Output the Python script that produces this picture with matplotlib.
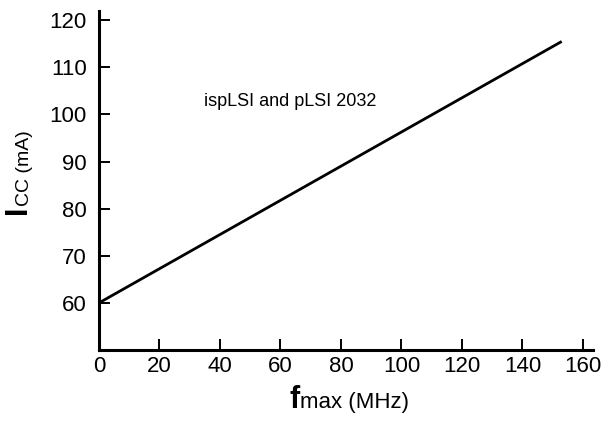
import matplotlib
matplotlib.use('Agg')
import matplotlib.pyplot as plt

# dados
fmax = [0, 153]
icc = [60, 115.5]
xticks = [0, 20, 40, 60, 80, 100, 120, 140, 160]
yticks = [60, 70, 80, 90, 100, 110, 120]
curva = 'ispLSI and pLSI 2032'

plt.rcParams['font.family'] = ['Liberation Sans', 'DejaVu Sans']

fig = plt.figure(figsize=(6.15, 4.25), dpi=100)
ax = fig.add_axes([0.161, 0.1765, 0.803, 0.798])

ax.plot(fmax, icc, color='black', lw=2.0, solid_capstyle='butt')

ax.set_xlim(0, 163.3)
ax.set_ylim(50, 122)
ax.set_xticks(xticks)
ax.set_yticks(yticks)
ax.tick_params(direction='in', length=8, width=1.4, labelsize=16)
ax.tick_params(axis='y', pad=9)
ax.tick_params(axis='x', pad=4)

ax.spines['top'].set_visible(False)
ax.spines['right'].set_visible(False)
for s in ['left', 'bottom']:
    ax.spines[s].set_linewidth(2.2)

# legenda da curva
fig.text(204 / 615, (425 - 102) / 425, curva, fontsize=13, va='center', ha='left')

# rotulo y: I grande + CC (mA)
y0 = (425 - 206) / 425
fig.text(33 / 615, y0, 'I', rotation=90, fontsize=22, fontweight='bold',
         ha='right', va='top')
fig.text(33 / 615, y0, 'CC (mA)', rotation=90, fontsize=14,
         ha='right', va='bottom')

# rotulo x: f grande + max (MHz)
x0 = 300 / 615
yb = (425 - 408) / 425
fig.text(x0, yb, 'f', fontsize=22, fontweight='bold', ha='right', va='baseline')
fig.text(x0, yb, 'max (MHz)', fontsize=16, ha='left', va='baseline')

fig.savefig('out.png', dpi=100)
